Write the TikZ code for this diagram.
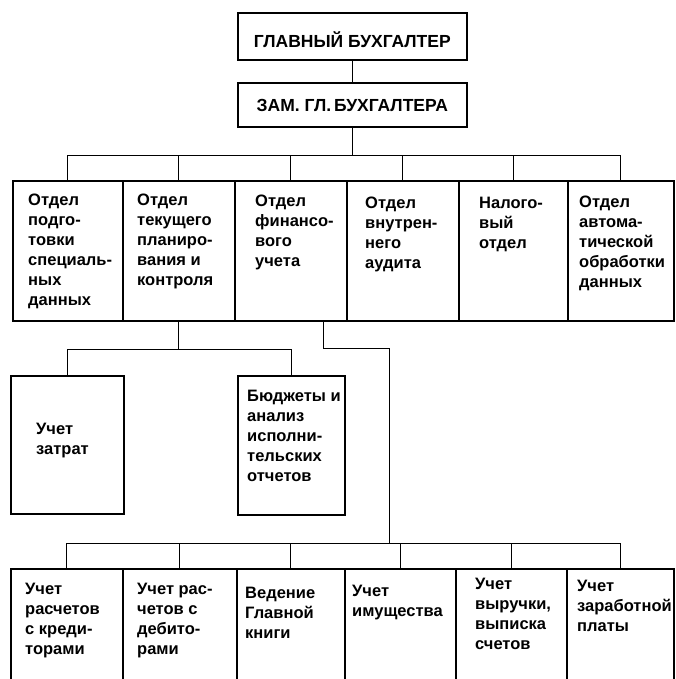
\documentclass[tikz,border=0pt]{standalone}
\usepackage{fontspec}
\setmainfont{Liberation Sans}
\usetikzlibrary{calc}
\begin{document}
\begin{tikzpicture}[x=1pt,y=-1pt,
  box/.style={draw, line width=1.6pt, inner sep=0pt, anchor=north west},
  wire/.style={line width=1pt},
  title/.style={font=\bfseries\fontsize{17.5}{20}\selectfont, inner sep=0pt},
  lbl/.style={anchor=north west, inner sep=0pt, align=left,
              font=\bfseries\fontsize{16.5}{20}\selectfont}]
\useasboundingbox (0,0) rectangle (675,679);
\clip (0,0) rectangle (675,679);

% head of the department
\node[box, minimum width=229pt, minimum height=47pt] (chief) at (237,12) {};
\node[title] at ($(chief.center)+(0,3)$) {ГЛАВНЫЙ БУХГАЛТЕР};
\node[box, minimum width=229pt, minimum height=44pt] (deputy) at (237,82) {};
\node[title] at ($(deputy.center)+(0,1)$) {ЗАМ. ГЛ.\,БУХГАЛТЕРА};
\draw[wire] (chief.south) -- (deputy.north);

% departments
\node[box, minimum width=110pt, minimum height=140pt] (d1) at (12,180) {};
\node[box, minimum width=112pt, minimum height=140pt] (d2) at (122,180) {};
\node[box, minimum width=112pt, minimum height=140pt] (d3) at (234,180) {};
\node[box, minimum width=112pt, minimum height=140pt] (d4) at (346,180) {};
\node[box, minimum width=109pt, minimum height=140pt] (d5) at (458,180) {};
\node[box, minimum width=106pt, minimum height=140pt] (d6) at (567,180) {};

\node[lbl] (t1) at (28,194) {Отдел\\подго-\\товки\\специаль-\\ных\\данных};
\node[lbl] (t2) at (137,194) {Отдел\\текущего\\планиро-\\вания и\\контроля};
\node[lbl] (t3) at (255,195) {Отдел\\финансо-\\вого\\учета};
\node[lbl] (t4) at (365,197) {Отдел\\внутрен-\\него\\аудита};
\node[lbl] (t5) at (479,197) {Налого-\\вый\\отдел};
\node[lbl] (t6) at (579,196) {Отдел\\автома-\\тической\\обработки\\данных};

% first level bus
\coordinate (bus1) at (0,156);
\draw[wire] (deputy.south) -- (deputy.south |- bus1);
\draw[wire] (d1.north) |- (bus1 -| d6.north) -- (d6.north);
\foreach \d in {d2,d3,d4,d5} \draw[wire] (\d.north) -- (\d.north |- bus1);

% planning and control sections
\node[box, minimum width=113pt, minimum height=138pt] (m1) at (10,375) {};
\node[box, minimum width=107pt, minimum height=139pt] (m2) at (237,375) {};
\node[lbl] (u1) at (36,423) {Учет\\затрат};
\node[lbl] (u2) at (247,390) {Бюджеты и\\анализ\\исполни-\\тельских\\отчетов};

\coordinate (bus2) at (0,349);
\draw[wire] (d2.south) -- (d2.south |- bus2);
\draw[wire] (m1.north) |- (bus2 -| m2.north) -- (m2.north);

% financial accounting sections
\node[box, minimum width=112pt, minimum height=130pt] (f1) at (10,568) {};
\node[box, minimum width=114pt, minimum height=130pt] (f2) at (122,568) {};
\node[box, minimum width=108pt, minimum height=130pt] (f3) at (236,568) {};
\node[box, minimum width=111pt, minimum height=130pt] (f4) at (344,568) {};
\node[box, minimum width=111pt, minimum height=130pt] (f5) at (455,568) {};
\node[box, minimum width=107pt, minimum height=130pt] (f6) at (566,568) {};

\node[lbl] (v1) at (25,583) {Учет\\расчетов\\с креди-\\торами};
\node[lbl] (v2) at (137,583) {Учет рас-\\четов с\\дебито-\\рами};
\node[lbl] (v3) at (245,587) {Ведение\\Главной\\книги};
\node[lbl] (v4) at (352,585) {Учет\\имущества};
\node[lbl] (v5) at (475,578) {Учет\\выручки,\\выписка\\счетов};
\node[lbl] (v6) at (577,580) {Учет\\заработной\\платы};

\coordinate (fin) at (323,320);
\coordinate (jog) at (389,348);
\coordinate (bus3) at (0,543);
\draw[wire] (fin) |- (jog) -- (jog |- bus3);
\draw[wire] (f1.north) |- (bus3 -| f6.north) -- (f6.north);
\foreach \f in {f2,f3,f4,f5} \draw[wire] (\f.north) -- (\f.north |- bus3);
\end{tikzpicture}
\end{document}
